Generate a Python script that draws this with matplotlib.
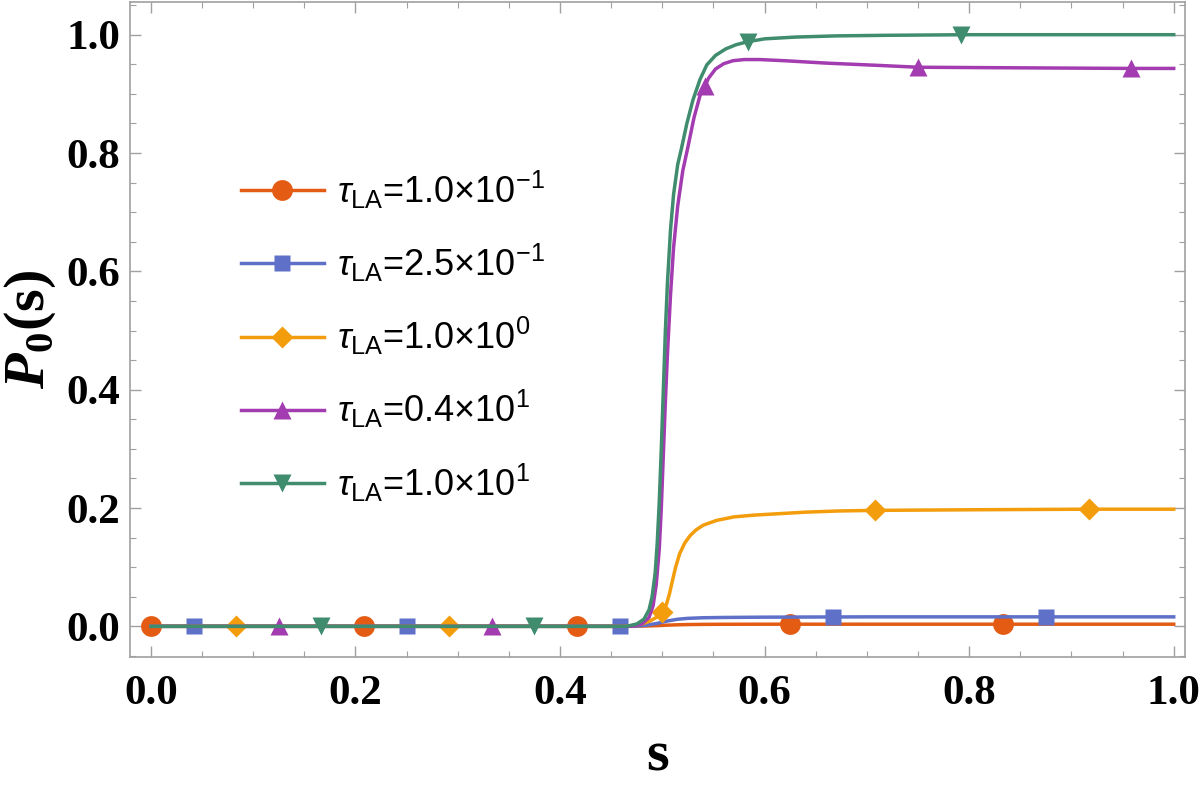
import matplotlib
matplotlib.use("Agg")
import matplotlib.pyplot as plt
from matplotlib.ticker import MultipleLocator, FormatStrFormatter

plt.rcParams['mathtext.fontset'] = 'custom'
plt.rcParams['mathtext.rm'] = 'Liberation Sans'
plt.rcParams['mathtext.it'] = 'Liberation Sans:italic'
plt.rcParams['mathtext.bf'] = 'Liberation Serif:bold'
plt.rcParams['mathtext.bfit'] = 'Liberation Serif:bold:italic'

# curves (s, P0(s))
s_red = [0.0, 0.46, 0.475, 0.485, 0.495, 0.505, 0.515, 0.525, 0.54, 0.56, 0.60, 0.70, 1.0]
p_red = [0.0, 0.0, 0.0002, 0.0006, 0.0012, 0.0020, 0.0026, 0.0030, 0.0033, 0.0035, 0.0036, 0.0036, 0.0036]

s_blue = [0.0, 0.46, 0.475, 0.485, 0.495, 0.505, 0.515, 0.525, 0.54, 0.56, 0.60, 0.70, 1.0]
p_blue = [0.0, 0.0, 0.0005, 0.002, 0.005, 0.009, 0.012, 0.0135, 0.0145, 0.015, 0.0155, 0.016, 0.016]

s_orange = [0.0, 0.46, 0.47, 0.48, 0.488, 0.494, 0.5005, 0.504, 0.507, 0.510, 0.513, 0.517,
            0.522, 0.527, 0.533, 0.540, 0.553, 0.570, 0.590, 0.610, 0.640, 0.673, 0.708,
            0.80, 0.917, 1.0]
p_orange = [0.0, 0.0, 0.001, 0.004, 0.009, 0.015, 0.025, 0.037, 0.055, 0.078, 0.100, 0.123,
            0.141, 0.153, 0.163, 0.171, 0.179, 0.185, 0.188, 0.190, 0.193, 0.195, 0.196,
            0.197, 0.198, 0.198]

s_purple = [0.0, 0.47, 0.48, 0.487, 0.491, 0.494, 0.497, 0.499, 0.501, 0.503, 0.505, 0.508,
            0.511, 0.515, 0.520, 0.525, 0.531, 0.537, 0.5417, 0.545, 0.552, 0.560, 0.569,
            0.580, 0.595, 0.620, 0.660, 0.713, 0.75, 0.85, 0.958, 1.0]
p_purple = [0.0, 0.0, 0.004, 0.015, 0.035, 0.070, 0.130, 0.200, 0.290, 0.380, 0.460, 0.560,
            0.640, 0.710, 0.770, 0.810, 0.860, 0.898, 0.913, 0.926, 0.942, 0.951, 0.956,
            0.958, 0.958, 0.956, 0.952, 0.948, 0.945, 0.944, 0.943, 0.943]

s_green = [0.0, 0.465, 0.475, 0.482, 0.487, 0.490, 0.493, 0.495, 0.497, 0.499, 0.501, 0.503,
           0.505, 0.508, 0.511, 0.515, 0.519, 0.524, 0.530, 0.537, 0.5435, 0.552, 0.562,
           0.572, 0.583, 0.600, 0.630, 0.670, 0.720, 0.80, 1.0]
p_green = [0.0, 0.0, 0.004, 0.012, 0.028, 0.050, 0.090, 0.140, 0.210, 0.300, 0.400, 0.500,
           0.580, 0.670, 0.730, 0.780, 0.810, 0.850, 0.890, 0.925, 0.949, 0.965, 0.976,
           0.983, 0.988, 0.993, 0.996, 0.998, 0.999, 1.0, 1.0]

# marker points
m_red_s = [0.0, 0.2083, 0.4167, 0.625, 0.8333]
m_red_p = [0.0, 0.0, 0.0, 0.0036, 0.0036]
m_blue_s = [0.0417, 0.25, 0.4583, 0.6667, 0.875]
m_blue_p = [0.0, 0.0, 0.0, 0.016, 0.016]
m_orange_s = [0.0833, 0.2917, 0.5, 0.7083, 0.9167]
m_orange_p = [0.0, 0.0, 0.025, 0.196, 0.198]
m_purple_s = [0.125, 0.3333, 0.5417, 0.75, 0.9583]
m_purple_p = [0.0, 0.0, 0.913, 0.945, 0.943]
m_green_s = [0.1667, 0.375, 0.5833, 0.7917]
m_green_p = [0.0, 0.0, 0.988, 1.0]

labels = [r'$\tau_{\mathrm{LA}}$=1.0×10$^{-1}$',
          r'$\tau_{\mathrm{LA}}$=2.5×10$^{-1}$',
          r'$\tau_{\mathrm{LA}}$=1.0×10$^{0}$',
          r'$\tau_{\mathrm{LA}}$=0.4×10$^{1}$',
          r'$\tau_{\mathrm{LA}}$=1.0×10$^{1}$']

colors = ['#E45C14', '#5E70C8', '#F39C0C', '#A33CB0', '#408C6E']
markers = ['o', 's', 'D', '^', 'v']
msizes = [15, 11, 11, 13, 13]

curves = [(s_red, p_red, m_red_s, m_red_p),
          (s_blue, p_blue, m_blue_s, m_blue_p),
          (s_orange, p_orange, m_orange_s, m_orange_p),
          (s_purple, p_purple, m_purple_s, m_purple_p),
          (s_green, p_green, m_green_s, m_green_p)]

fig = plt.figure(figsize=(12, 7.86), dpi=100)
ax = fig.add_axes([0.1083, 0.164, 0.879, 0.834])

handles = []
for i, (sx, py, ms_, mp_) in enumerate(curves):
    ax.plot(sx, py, color=colors[i], lw=2.5, solid_joinstyle='round', zorder=2 + i)
    ax.plot(ms_, mp_, ls='none', marker=markers[i], ms=msizes[i], color=colors[i],
            mec='none', zorder=2 + i)
    h, = ax.plot([], [], color=colors[i], lw=2.5, marker=markers[i], ms=msizes[i],
                 mec='none', label=labels[i])
    handles.append(h)

ax.set_xlim(-0.0205, 1.0108)
ax.set_ylim(-0.052, 1.056)

ax.xaxis.set_major_locator(MultipleLocator(0.2))
ax.xaxis.set_minor_locator(MultipleLocator(0.05))
ax.yaxis.set_major_locator(MultipleLocator(0.2))
ax.yaxis.set_minor_locator(MultipleLocator(0.05))
ax.xaxis.set_major_formatter(FormatStrFormatter('%.1f'))
ax.yaxis.set_major_formatter(FormatStrFormatter('%.1f'))

for sp in ax.spines.values():
    sp.set_color('#A0A0A0')
    sp.set_linewidth(1.2)
ax.tick_params(which='both', direction='in', top=True, right=True, color='#A0A0A0')
ax.tick_params(which='major', length=8, width=1.0)
ax.tick_params(which='minor', length=4.5, width=0.8)
ax.tick_params(axis='x', which='major', pad=13)
ax.tick_params(axis='y', which='major', pad=7)
for lab in ax.get_xticklabels() + ax.get_yticklabels():
    lab.set_fontfamily('Liberation Serif')
    lab.set_fontweight('bold')
    lab.set_fontsize(31)

ax.set_xlabel(r'$\mathbf{s}$', fontsize=42, labelpad=8)
ax.set_ylabel(r'$\mathbfit{P}_{\mathbf{0}}\mathbf{(s)}$', fontsize=42, labelpad=6)

leg = ax.legend(handles=handles, loc='upper left', bbox_to_anchor=(0.074, 0.795),
                frameon=False, handlelength=2.3, handletextpad=0.38,
                labelspacing=0.86, prop={'family': 'Liberation Sans', 'size': 26})

fig.savefig('out.png', dpi=100)
